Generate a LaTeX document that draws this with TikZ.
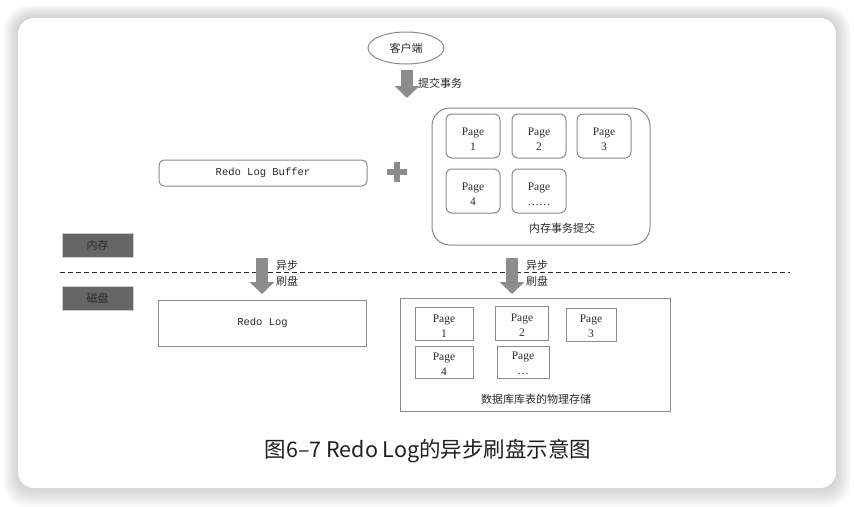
\documentclass[tikz,border=0pt]{standalone}
\usepackage{fontspec}
\usepackage{xcolor}
\usetikzlibrary{shapes.geometric,arrows.meta}
\setmainfont{Liberation Serif}
\newfontfamily\cjk{Noto Sans CJK SC}
\newfontfamily\monof{Liberation Mono}

\definecolor{linegray}{HTML}{8A8A8A}
\definecolor{arrowgray}{HTML}{8C8C8C}
\definecolor{tagfill}{HTML}{666666}
\definecolor{txt}{HTML}{2A2A2A}

% page label, first line pushed down a little
\newcommand{\pagetxt}[2][14pt]{\rule{0pt}{#1}Page\\#2}

\tikzset{
	pagebox/.style={draw=linegray, line width=1pt, rounded corners=6pt, minimum width=54pt, minimum height=44pt, align=center, font=\fontsize{11.5}{15.5}\selectfont, text=txt, inner sep=0pt},
	diskpage/.style={draw=linegray, line width=1pt, align=center, font=\fontsize{11.5}{15}\selectfont, text=txt, inner sep=0pt},
	bigbox/.style={draw=linegray, line width=1pt},
	tagbox/.style={draw=gray!40, fill=tagfill, line width=1pt, minimum width=71pt, minimum height=24pt, font=\cjk\fontsize{11}{13}\selectfont, text=txt},
	cjklabel/.style={font=\cjk\fontsize{11}{16}\selectfont, text=txt, align=left, inner sep=0pt},
	bigarrow/.style={draw=arrowgray, line width=12pt, -{Triangle[width=24pt,length=12pt]}}
}

\begin{document}
\begin{tikzpicture}[x=1pt, y=-1pt]
	\useasboundingbox (0,0) rectangle (854,506);
	% card with soft shadow
	\foreach \i in {1,...,9}
		\fill[black, opacity=0.018, rounded corners=16pt+\i pt] (18-\i*1.6,18-\i*1.4) rectangle (836+\i*1.6,488+\i*2.2);
	\fill[white, rounded corners=16pt] (18,18) rectangle (836,488);

	% memory side
	\node[ellipse, draw=linegray, line width=1pt, minimum width=76pt, minimum height=32pt, font=\cjk\fontsize{11}{13}\selectfont, text=txt] (client) at (406,48) {客户端};
	\coordinate (commitTop) at (407,70);
	\coordinate (commitEnd) at (407,98);
	\draw[bigarrow] (commitTop) -- (commitEnd);
	\node[cjklabel, anchor=west] (commitText) at (418,83) {提交事务};

	\node[draw=linegray, line width=1pt, rounded corners=5pt, minimum width=208pt, minimum height=26pt, font=\monof\fontsize{10.5}{12}\selectfont, text=txt] (buffer) at (263,173) {Redo Log Buffer};
	\node[minimum size=20pt] (plus) at (397,172) {};
	\draw[arrowgray, line width=6pt] (plus.north) -- (plus.south) (plus.west) -- (plus.east);

	\node[bigbox, rounded corners=18pt, minimum width=218pt, minimum height=137pt] (memory) at (541,176.5) {};
	\node[pagebox] (mpage1) at (473,136) {\pagetxt{1}};
	\node[pagebox] (mpage2) at (539,136) {\pagetxt{2}};
	\node[pagebox] (mpage3) at (604,136) {\pagetxt{3}};
	\node[pagebox] (mpage4) at (473,191) {\pagetxt{4}};
	\node[pagebox] (mpage5) at (539,191) {\pagetxt{……}};
	\node[cjklabel] (memText) at (562,228) {内存事务提交};

	% divider
	\node[tagbox] (memTag) at (97.5,245.5) {内存};
	\node[tagbox] (diskTag) at (97.5,298.5) {磁盘};
	\coordinate (lineL) at (60,272);
	\coordinate (lineR) at (790,272);
	\draw[txt, line width=1pt, dash pattern=on 5pt off 3pt] (lineL) -- (lineR);

	% flush arrows
	\coordinate (flushA) at (262,258);
	\coordinate (flushAEnd) at (262,294);
	\draw[bigarrow] (flushA) -- (flushAEnd);
	\node[cjklabel, anchor=west] (flushAText) at (276,273) {异步\\刷盘};
	\coordinate (flushB) at (512,258);
	\coordinate (flushBEnd) at (512,294);
	\draw[bigarrow] (flushB) -- (flushBEnd);
	\node[cjklabel, anchor=west] (flushBText) at (526,273) {异步\\刷盘};

	% disk side
	\node[bigbox, minimum width=208pt, minimum height=46pt, font=\monof\fontsize{10.5}{12}\selectfont, text=txt] (redolog) at (262.5,323) {Redo Log};
	\node[bigbox, minimum width=270pt, minimum height=113pt] (disk) at (535,355) {};
	\node[diskpage, minimum width=58pt, minimum height=33pt] (dpage1) at (444,324) {\pagetxt[11pt]{1}};
	\node[diskpage, minimum width=53pt, minimum height=34pt] (dpage2) at (522,323) {\pagetxt[11pt]{2}};
	\node[diskpage, minimum width=50pt, minimum height=33pt] (dpage3) at (591,324.5) {\pagetxt[11pt]{3}};
	\node[diskpage, minimum width=58pt, minimum height=32pt] (dpage4) at (444,362.5) {\pagetxt[11pt]{4}};
	\node[diskpage, minimum width=52pt, minimum height=32pt] (dpage5) at (523,362) {\pagetxt[11pt]{…}};
	\node[cjklabel] (diskText) at (536,399) {数据库库表的物理存储};

	% caption
	\node[font=\cjk\fontsize{21.5}{24}\selectfont, text=black!88] (caption) at (428,451) {图6–7 Redo Log的异步刷盘示意图};
\end{tikzpicture}
\end{document}
